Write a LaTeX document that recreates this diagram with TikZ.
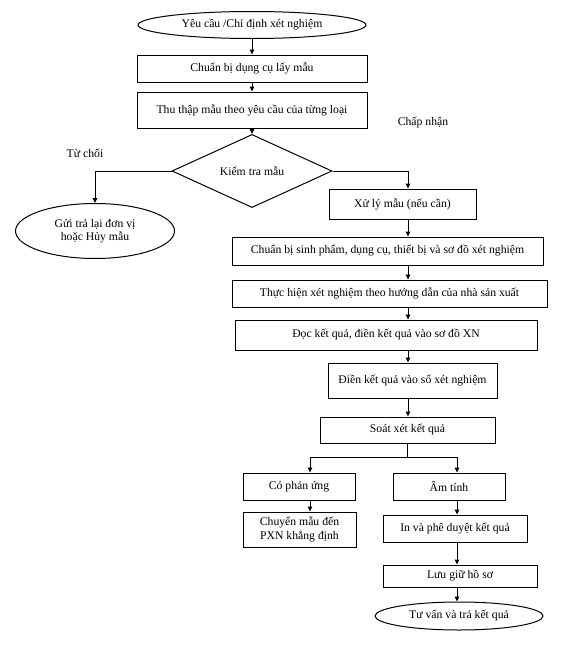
\documentclass[tikz,border=0pt]{standalone}
\usepackage{fontspec}
\setmainfont{Liberation Serif}
\usetikzlibrary{shapes.geometric,arrows.meta}

\begin{document}
\begin{tikzpicture}[x=1pt,y=-1pt,
  stepbox/.style={draw,line width=1pt,inner sep=0pt,align=center,
    font=\fontsize{11.7}{13.5}\selectfont},
  terminal/.style={stepbox,ellipse},
  decision/.style={stepbox,diamond},
  note/.style={inner sep=0pt,font=\fontsize{11.7}{13.5}\selectfont},
  flow/.style={line width=1pt,-{Triangle[length=5pt,width=4.5pt]}}]

  \useasboundingbox (0,0) rectangle (561,648);

  % columns used by the connectors
  \coordinate (spine) at (408,0);
  \coordinate (posline) at (310,0);
  \coordinate (negline) at (457,0);

  % top part
  \node[terminal,minimum width=228,minimum height=27] (start) at (252,25) {Yêu cầu /Chỉ định xét nghiệm};
  \node[stepbox,minimum width=230,minimum height=27] (prep) at (252,68.5) {Chuẩn bị dụng cụ lấy mẫu};
  \node[stepbox,minimum width=230,minimum height=36] (collect) at (252,110) {Thu thập mẫu theo yêu cầu của từng loại};
  \node[decision,minimum width=160,minimum height=49] (check) at (252,171) {Kiểm tra mẫu};

  % rejected sample
  \node[note] (rejlbl) at (85,153) {Từ chối};
  \node[terminal,minimum width=159,minimum height=55] (reject) at (95,231) {Gửi trả lại đơn vị\\hoặc Hủy mẫu};

  % accepted sample
  \node[note] (acclbl) at (423,123) {Chấp nhận};
  \node[stepbox,minimum width=147,minimum height=30] (process) at (402.5,204) {Xử lý mẫu (nếu cần)};
  \node[stepbox,minimum width=311,minimum height=28] (reagent) at (387.5,251) {Chuẩn bị sinh phẩm, dụng cụ, thiết bị và sơ đồ xét nghiệm};
  \node[stepbox,minimum width=315,minimum height=27] (perform) at (389.5,293.5) {Thực hiện xét nghiệm theo hướng dẫn của nhà sản xuất};
  \node[stepbox,minimum width=302,minimum height=30] (read) at (386,335) {Đọc kết quả, điền kết quả vào sơ đồ XN};
  \node[stepbox,minimum width=169,minimum height=35] (record) at (412.5,380.5) {Điền kết quả vào sổ xét nghiệm};
  \node[stepbox,minimum width=175,minimum height=26] (review) at (407.5,430) {Soát xét kết quả};
  \coordinate (split) at (407.5,457);

  % reactive branch
  \node[stepbox,minimum width=112,minimum height=27] (positive) at (299,486.5) {Có phản ứng};
  \node[stepbox,minimum width=113,minimum height=35] (transfer) at (299.5,529.5) {Chuyển mẫu đến\\PXN khẳng định};

  % negative branch
  \node[stepbox,minimum width=112,minimum height=27] (negative) at (449,486.5) {Âm tính};
  \node[stepbox,minimum width=144,minimum height=27] (approve) at (455,528.5) {In và phê duyệt kết quả};
  \node[stepbox,minimum width=154,minimum height=22] (archive) at (460,576) {Lưu giữ hồ sơ};
  \node[terminal,minimum width=168,minimum height=28] (finish) at (459,616) {Tư vấn và trả kết quả};

  % connectors
  \foreach \a/\b in {start/prep,prep/collect,collect/check}
    \draw[flow] (\a.south) -- (\b.north);
  \draw[flow] (check.west) -| (reject.north);
  \draw[flow] (check.east) -| (process.north -| spine);
  \foreach \a/\b in {process/reagent,reagent/perform,perform/read,read/record,record/review}
    \draw[flow] (\a.south -| spine) -- (\b.north -| spine);
  \draw[flow] (review.south) -- (split) -| (positive.north -| posline);
  \draw[flow] (split) -| (negative.north -| negline);
  \draw[flow] (positive.south -| posline) -- (transfer.north -| posline);
  \foreach \a/\b in {negative/approve,approve/archive,archive/finish}
    \draw[flow] (\a.south -| negline) -- (\b.north -| negline);

\end{tikzpicture}
\end{document}
